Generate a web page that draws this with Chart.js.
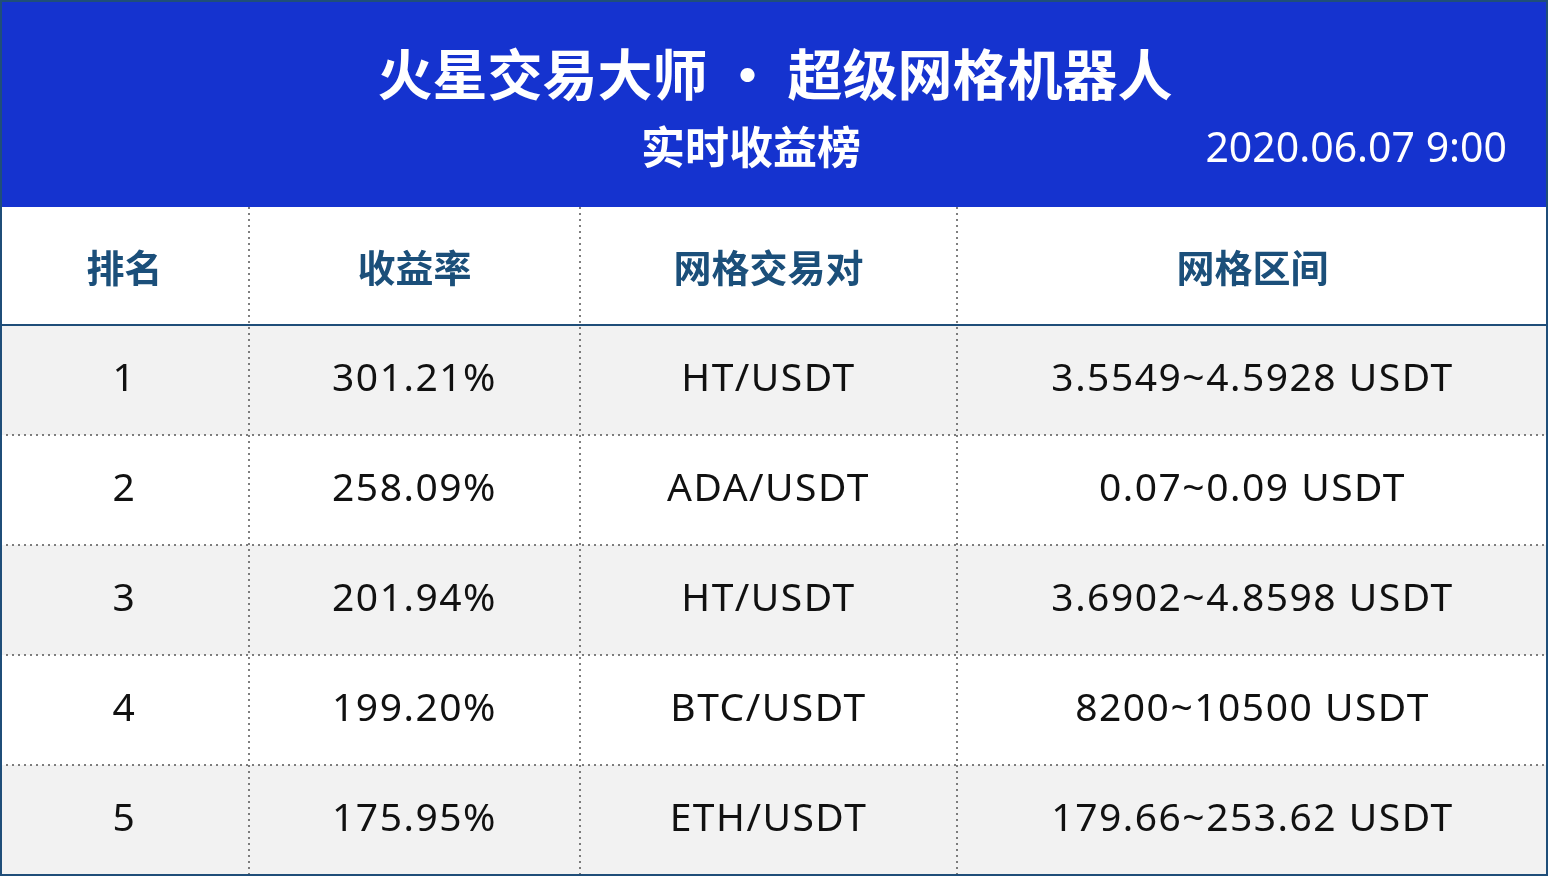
<!DOCTYPE html>
<html><head><meta charset="utf-8">
<script src="https://cdn.jsdelivr.net/npm/chart.js@4"></script>
<style>html,body{margin:0;padding:0;background:#fff}#w{width:1548px;height:876px}</style>
</head><body><div id="w"><canvas id="c"></canvas></div>
<script>
const title = "火星交易大师 · 超级网格机器人";
const subtitle = "实时收益榜";
const dateLabel = "2020.06.07 9:00";
const headers = ["排名", "收益率", "网格交易对", "网格区间"];
const ranks = ["1", "2", "3", "4", "5"];
const returns = ["301.21%", "258.09%", "201.94%", "199.20%", "175.95%"];
const pairs = ["HT/USDT", "ADA/USDT", "HT/USDT", "BTC/USDT", "ETH/USDT"];
const ranges = ["3.5549~4.5928 USDT", "0.07~0.09 USDT", "3.6902~4.8598 USDT", "8200~10500 USDT", "179.66~253.62 USDT"];

const colEdges = [0, 249, 580, 957, 1548];
const rowEdges = [207, 325, 435, 545, 655, 765, 875];

const tablePlugin = {
  id: 'table',
  afterDraw(chart) {
    const ctx = chart.ctx, X = chart.scales.x, Y = chart.scales.y;
    const px = v => X.getPixelForValue(v), py = v => Y.getPixelForValue(v);
    ctx.save();
    ctx.fillStyle = '#1533CF';
    ctx.fillRect(px(0), py(0), px(1548) - px(0), py(207) - py(0));
    ctx.fillStyle = '#fff';
    ctx.textAlign = 'center'; ctx.textBaseline = 'middle';
    ctx.font = 'bold 55px "Noto Sans CJK SC"';
    ctx.fillText(title, px(775), py(74));
    ctx.font = 'bold 44px "Noto Sans CJK SC"';
    ctx.fillText(subtitle, px(751), py(147));
    ctx.font = '41px "Noto Sans", "Noto Sans CJK SC"';
    ctx.textAlign = 'right';
    ctx.fillText(dateLabel, px(1507), py(150));
    const rows = ranks.map((r, i) => [r, returns[i], pairs[i], ranges[i]]);
    rows.forEach((row, i) => {
      if (i % 2 === 0) {
        ctx.fillStyle = '#F2F2F2';
        ctx.fillRect(px(0), py(rowEdges[i + 1]), px(1548) - px(0), py(rowEdges[i + 2]) - py(rowEdges[i + 1]));
      }
    });
    ctx.strokeStyle = '#555'; ctx.lineWidth = 1.5; ctx.setLineDash([2, 4]);
    for (let j = 1; j < colEdges.length - 1; j++) {
      ctx.beginPath(); ctx.moveTo(px(colEdges[j]), py(207)); ctx.lineTo(px(colEdges[j]), py(875)); ctx.stroke();
    }
    for (let i = 2; i < rowEdges.length - 1; i++) {
      ctx.beginPath(); ctx.moveTo(px(0), py(rowEdges[i])); ctx.lineTo(px(1548), py(rowEdges[i])); ctx.stroke();
    }
    ctx.setLineDash([]);
    ctx.strokeStyle = '#1F4E79'; ctx.lineWidth = 2;
    ctx.beginPath(); ctx.moveTo(px(0), py(325)); ctx.lineTo(px(1548), py(325)); ctx.stroke();
    ctx.strokeRect(px(0) + 1, py(0) + 1, px(1548) - px(0) - 2, py(875) - py(0) - 1);
    ctx.textAlign = 'center';
    ctx.fillStyle = '#1B4F7A';
    ctx.font = 'bold 38px "Noto Sans CJK SC"';
    headers.forEach((h, j) => ctx.fillText(h, px((colEdges[j] + colEdges[j + 1]) / 2), py(268)));
    ctx.fillStyle = '#111';
    ctx.font = '39px "Noto Sans", "Noto Sans CJK SC"';
    ctx.letterSpacing = '1.5px';
    rows.forEach((row, i) => {
      const cy = (rowEdges[i + 1] + rowEdges[i + 2]) / 2;
      row.forEach((t, j) => ctx.fillText(t, px((colEdges[j] + colEdges[j + 1]) / 2), py(cy)));
    });
    ctx.restore();
  }
};

new Chart(document.getElementById('c'), {
  type: 'scatter',
  data: { datasets: [{ data: [] }] },
  options: {
    responsive: true, maintainAspectRatio: false, animation: false,
    layout: { padding: 0 },
    plugins: { legend: { display: false }, tooltip: { enabled: false } },
    scales: {
      x: { type: 'linear', min: 0, max: 1548, display: false },
      y: { type: 'linear', min: 0, max: 876, reverse: true, display: false }
    }
  },
  plugins: [tablePlugin]
});
</script></body></html>
